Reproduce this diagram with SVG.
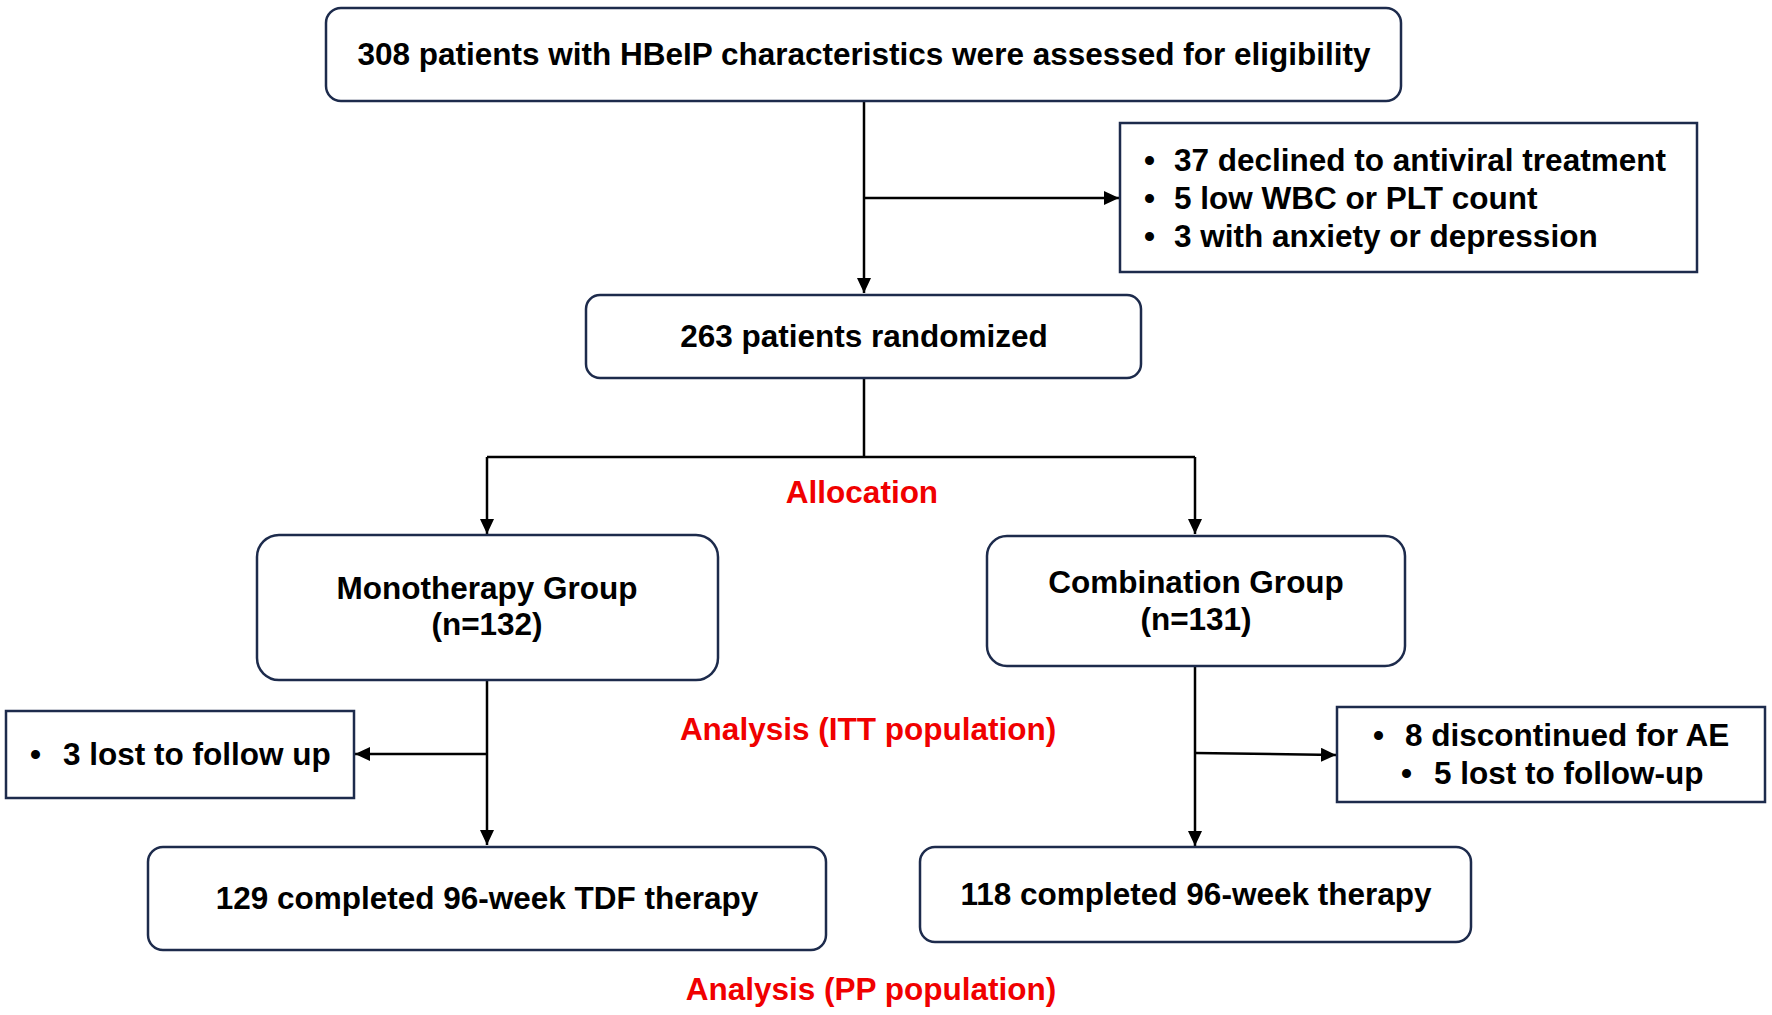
<svg xmlns="http://www.w3.org/2000/svg" width="1772" height="1015" viewBox="0 0 1772 1015">
<style>
text{font-family:"Liberation Sans",Arial,sans-serif;font-weight:bold;font-size:31.5px;fill:#000}
.c{text-anchor:middle}
.red{fill:#F00000}
.box{fill:#fff;stroke:#1d2b4c;stroke-width:2.5}
.ln{fill:none;stroke:#000;stroke-width:2.5}
</style>
<defs>
<marker id="arr" markerUnits="userSpaceOnUse" markerWidth="16" markerHeight="14" refX="15" refY="7" orient="auto">
<path d="M0,0 L15,7 L0,14 z" fill="#000"/>
</marker>
</defs>
<rect width="1772" height="1015" fill="#fff"/>
<g id="connectors">
<path class="ln" d="M864,101 V293" marker-end="url(#arr)"/>
<path class="ln" d="M864,198 H1119" marker-end="url(#arr)"/>
<path class="ln" d="M864,377 V457 M487,457 H1195"/>
<path class="ln" d="M487,457 V534" marker-end="url(#arr)"/>
<path class="ln" d="M1195,457 V534" marker-end="url(#arr)"/>
<path class="ln" d="M487,680 V845" marker-end="url(#arr)"/>
<path class="ln" d="M487,754 H355" marker-end="url(#arr)"/>
<path class="ln" d="M1195,666 V846" marker-end="url(#arr)"/>
<path class="ln" d="M1195,753 L1336,755" marker-end="url(#arr)"/>
</g>
<g id="n-assessed">
<rect class="box" x="326" y="8" width="1075" height="93" rx="15"/>
<text class="c" x="864" y="65">308 patients with HBeIP characteristics were assessed for eligibility</text>
</g>
<g id="n-excluded">
<rect class="box" x="1120" y="123" width="577" height="149"/>
<text x="1144" y="171">•</text><text x="1174" y="171">37 declined to antiviral treatment</text>
<text x="1144" y="209">•</text><text x="1174" y="209">5 low WBC or PLT count</text>
<text x="1144" y="247">•</text><text x="1174" y="247">3 with anxiety or depression</text>
</g>
<g id="n-randomized">
<rect class="box" x="586" y="295" width="555" height="83" rx="14"/>
<text class="c" x="864" y="347">263 patients randomized</text>
</g>
<g id="l-allocation">
<text class="c red" x="862" y="503">Allocation</text>
</g>
<g id="n-mono">
<rect class="box" x="257" y="535" width="461" height="145" rx="22"/>
<text class="c" x="487" y="599">Monotherapy Group</text>
<text class="c" x="487" y="635">(n=132)</text>
</g>
<g id="n-combo">
<rect class="box" x="987" y="536" width="418" height="130" rx="20"/>
<text class="c" x="1196" y="593">Combination Group</text>
<text class="c" x="1196" y="630">(n=131)</text>
</g>
<g id="l-itt">
<text class="c red" x="868" y="740">Analysis (ITT population)</text>
</g>
<g id="n-mono-lost">
<rect class="box" x="6" y="711" width="348" height="87"/>
<text x="30" y="765">•</text><text x="63" y="765">3 lost to follow up</text>
</g>
<g id="n-combo-lost">
<rect class="box" x="1337" y="707" width="428" height="95"/>
<text x="1373" y="746">•</text><text x="1405" y="746">8 discontinued for AE</text>
<text x="1401" y="784">•</text><text x="1434" y="784">5 lost to follow-up</text>
</g>
<g id="n-mono-done">
<rect class="box" x="148" y="847" width="678" height="103" rx="15"/>
<text class="c" x="487" y="909">129 completed 96-week TDF therapy</text>
</g>
<g id="n-combo-done">
<rect class="box" x="920" y="847" width="551" height="95" rx="15"/>
<text class="c" x="1196" y="905">118 completed 96-week therapy</text>
</g>
<g id="l-pp">
<text class="c red" x="871" y="1000">Analysis (PP population)</text>
</g>
</svg>
